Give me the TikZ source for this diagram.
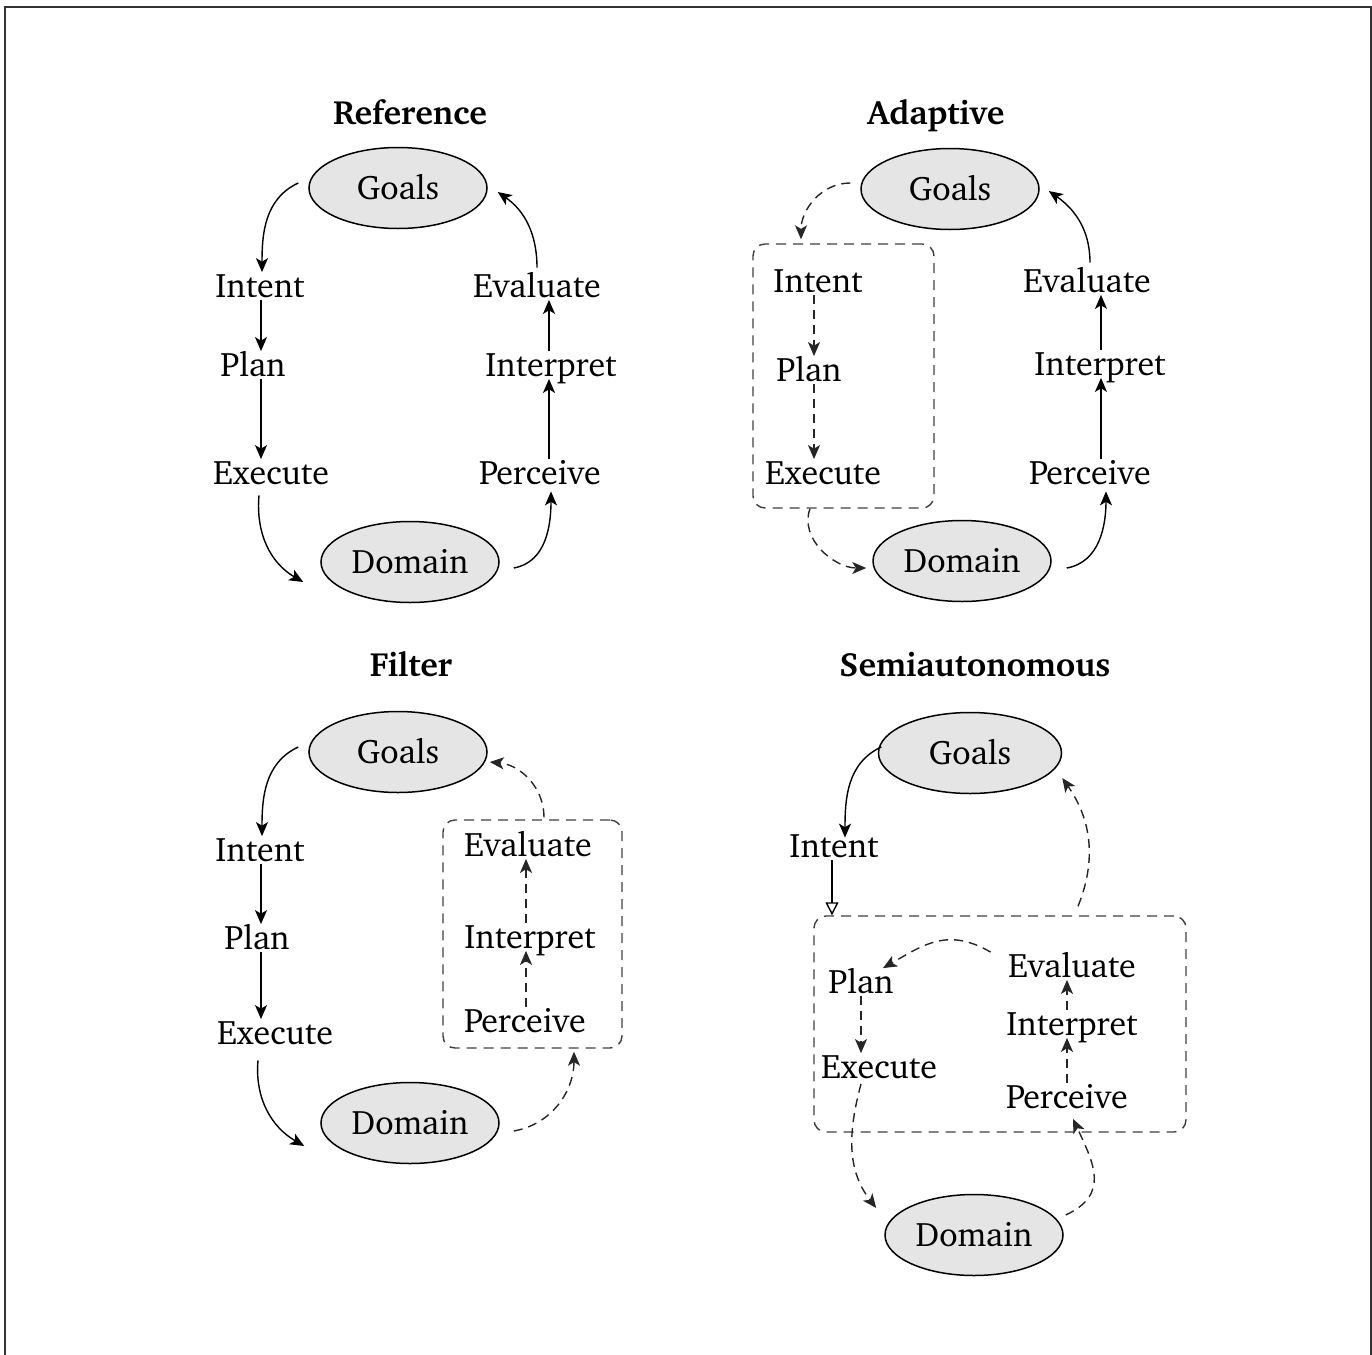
\documentclass[tikz,border=0pt]{standalone}
\usepackage[T1]{fontenc}
\usepackage{charter}
\usetikzlibrary{shapes.geometric,arrows.meta}
\begin{document}
\begin{tikzpicture}[x=0.5pt,y=0.5pt,
  lbl/.style={font=\fontsize{17}{20}\selectfont, inner sep=1pt, text height=11.5pt, text depth=0pt},
  ttl/.style={font=\fontsize{16.8}{19}\selectfont\bfseries, inner sep=1pt, text height=11.2pt, text depth=0pt},
  oval/.style={ellipse, draw, fill=gray!20, line width=0.75pt, inner sep=0pt, minimum width=89pt, minimum height=40.5pt, font=\fontsize{17}{20}\selectfont, text height=11.5pt, text depth=0pt},
  grp/.style={draw=black!75, dash pattern=on 5pt off 3.5pt, rounded corners=6pt, line width=0.7pt, inner sep=0pt},
  arr/.style={line width=0.7pt, -{Stealth[length=7pt,width=6pt,inset=1.8pt]}},
  darr/.style={arr, draw=black!85, dash pattern=on 4.5pt off 3pt},
]
\useasboundingbox (0,0) rectangle (1372,-1355);
\draw[line width=1pt, black!80] (5,-1360) -- (5,-6.5) -- (1370.5,-6.5) -- (1370.5,-1360);

% ---------------- Reference ----------------
\node[ttl] (t1) at (410,-113) {Reference};
\node[oval] (g1) at (398,-188) {Goals};
\node[lbl] (i1) at (260,-286) {Intent};
\node[lbl] (p1) at (253,-365) {Plan};
\node[lbl] (e1) at (271,-473) {Execute};
\node[oval] (d1) at (410,-562) {Domain};
\node[lbl] (pe1) at (540,-473) {Perceive};
\node[lbl] (in1) at (551,-365) {Interpret};
\node[lbl] (ev1) at (537,-286) {Evaluate};
\coordinate (c1a) at ([shift={(1,0)}]i1.south);
\coordinate (c1b) at ([shift={(9,0)}]pe1.north);
\draw[arr] ([shift={(-10,5)}]g1.west) to[out=205,in=90] ([shift={(2,0)}]i1.north);
\draw[arr] (c1a) -- (c1a |- p1.north);
\draw[arr] (c1a |- p1.south) -- (c1a |- e1.north);
\draw[arr] ([shift={(-12,-8.5)}]e1.south) to[out=-95,in=150] ([shift={(-17,-20)}]d1.west);
\draw[arr] ([shift={(14,-6)}]d1.east) to[out=10,in=-90] ([shift={(11,-4.5)}]pe1.south);
\draw[arr] (c1b) -- (c1b |- in1.south);
\draw[arr] (c1b |- in1.north) -- (c1b |- ev1.south);
\draw[arr] ([shift={(0,4.5)}]ev1.north) to[out=90,in=-35] ([shift={(10,-4)}]g1.east);

% ---------------- Adaptive ----------------
\node[ttl] (t2) at (936,-113) {Adaptive};
\node[oval] (g2) at (950,-189) {Goals};
\node[grp, minimum width=90.5pt, minimum height=132pt] (b2) at (843.5,-376) {};
\node[lbl] (i2) at (818,-281) {Intent};
\node[lbl] (p2) at (809,-370) {Plan};
\node[lbl] (e2) at (823,-473) {Execute};
\node[oval] (d2) at (962,-561) {Domain};
\node[lbl] (pe2) at (1090,-473) {Perceive};
\node[lbl] (in2) at (1100,-364) {Interpret};
\node[lbl] (ev2) at (1087,-281) {Evaluate};
\coordinate (c2a) at ([shift={(-4,0)}]i2.south);
\coordinate (c2b) at ([shift={(11,0)}]pe2.north);
\draw[darr] ([shift={(-10,6)}]g2.west) to[out=180,in=90] ([shift={(-42.5,4)}]b2.north);
\draw[darr] (c2a) -- (c2a |- p2.north);
\draw[darr] (c2a |- p2.south) -- (c2a |- e2.north);
\draw[darr] ([shift={(-33.5,0)}]b2.south) to[out=-110,in=180] ([shift={(-6,-7)}]d2.west);
\draw[arr] ([shift={(15,-7)}]d2.east) to[out=10,in=-90] ([shift={(16,-4.5)}]pe2.south);
\draw[arr] (c2b) -- (c2b |- in2.south);
\draw[arr] (c2b |- in2.north) -- (c2b |- ev2.south);
\draw[arr] ([shift={(3,4.5)}]ev2.north) to[out=90,in=-35] ([shift={(9,-2)}]g2.east);

% ---------------- Filter ----------------
\node[ttl] (t3) at (411,-665) {Filter};
\node[oval] (g3) at (398,-752) {Goals};
\node[lbl] (i3) at (260,-850) {Intent};
\node[lbl] (p3) at (257,-938) {Plan};
\node[lbl] (e3) at (275,-1033) {Execute};
\node[oval] (d3) at (410,-1123) {Domain};
\node[grp, minimum width=89.5pt, minimum height=114pt] (b3) at (532.5,-934) {};
\node[lbl] (ev3) at (528,-845) {Evaluate};
\node[lbl] (in3) at (530,-937) {Interpret};
\node[lbl] (pe3) at (525,-1021) {Perceive};
\coordinate (c3a) at ([shift={(1,0)}]i3.south);
\coordinate (c3b) at ([shift={(1,0)}]pe3.north);
\draw[arr] ([shift={(-10,5)}]g3.west) to[out=205,in=90] ([shift={(2,0)}]i3.north);
\draw[arr] (c3a) -- (c3a |- p3.north);
\draw[arr] (c3a |- p3.south) -- (c3a |- e3.north);
\draw[arr] ([shift={(-17,-13.5)}]e3.south) to[out=-95,in=150] ([shift={(-16,-23)}]d3.west);
\draw[darr] ([shift={(14,-8)}]d3.east) to[out=10,in=-90] ([shift={(41.5,-3)}]b3.south);
\draw[darr] (c3b) -- (c3b |- in3.south);
\draw[darr] (c3b |- in3.north) -- (c3b |- ev3.south);
\draw[darr] ([shift={(11.5,2)}]b3.north) to[out=90,in=-5] ([shift={(2,-10)}]g3.east);

% ---------------- Semiautonomous ----------------
\node[ttl] (t4) at (975,-665) {Semiautonomous};
\node[oval, minimum width=91.5pt] (g4) at (970,-753) {Goals};
\node[lbl] (i4) at (834,-846) {Intent};
\node[grp, minimum width=186pt, minimum height=108pt] (b4) at (1000,-1024) {};
\node[lbl] (p4) at (861,-982) {Plan};
\node[lbl] (e4) at (879,-1067) {Execute};
\node[lbl] (ev4) at (1072,-966) {Evaluate};
\node[lbl] (in4) at (1072,-1024) {Interpret};
\node[lbl] (pe4) at (1067,-1097) {Perceive};
\node[oval] (d4) at (974,-1235) {Domain};
\coordinate (c4a) at ([shift={(-2,0)}]i4.south);
\draw[arr] ([shift={(3.5,6)}]g4.west) to[out=205,in=90] ([shift={(11,-5.5)}]i4.north);
\draw[line width=0.7pt, -{Triangle[open,length=6.5pt,width=6.5pt]}] (c4a) -- (c4a |- b4.north);
\draw[darr] ([shift={(78,9)}]b4.north) to[out=68,in=-55] ([shift={(0,-25)}]g4.east);
\draw[darr] ([shift={(-15,0)}]ev4.north west) to[out=150,in=30,looseness=1.15] ([shift={(-13,0)}]p4.north east);
\draw[darr] (p4.south) -- (p4.south |- e4.north);
\draw[darr] (pe4.north) -- (pe4.north |- in4.south);
\draw[darr] (pe4.north |- in4.north) -- (pe4.north |- ev4.south);
\draw[darr] ([shift={(-18,-3)}]e4.south) to[out=-105,in=128] ([shift={(-8,27)}]d4.west);
\draw[darr] ([shift={(2,20)}]d4.east) to[out=25,in=-65,looseness=1.3] ([shift={(6,-8)}]pe4.south);
\end{tikzpicture}
\end{document}
